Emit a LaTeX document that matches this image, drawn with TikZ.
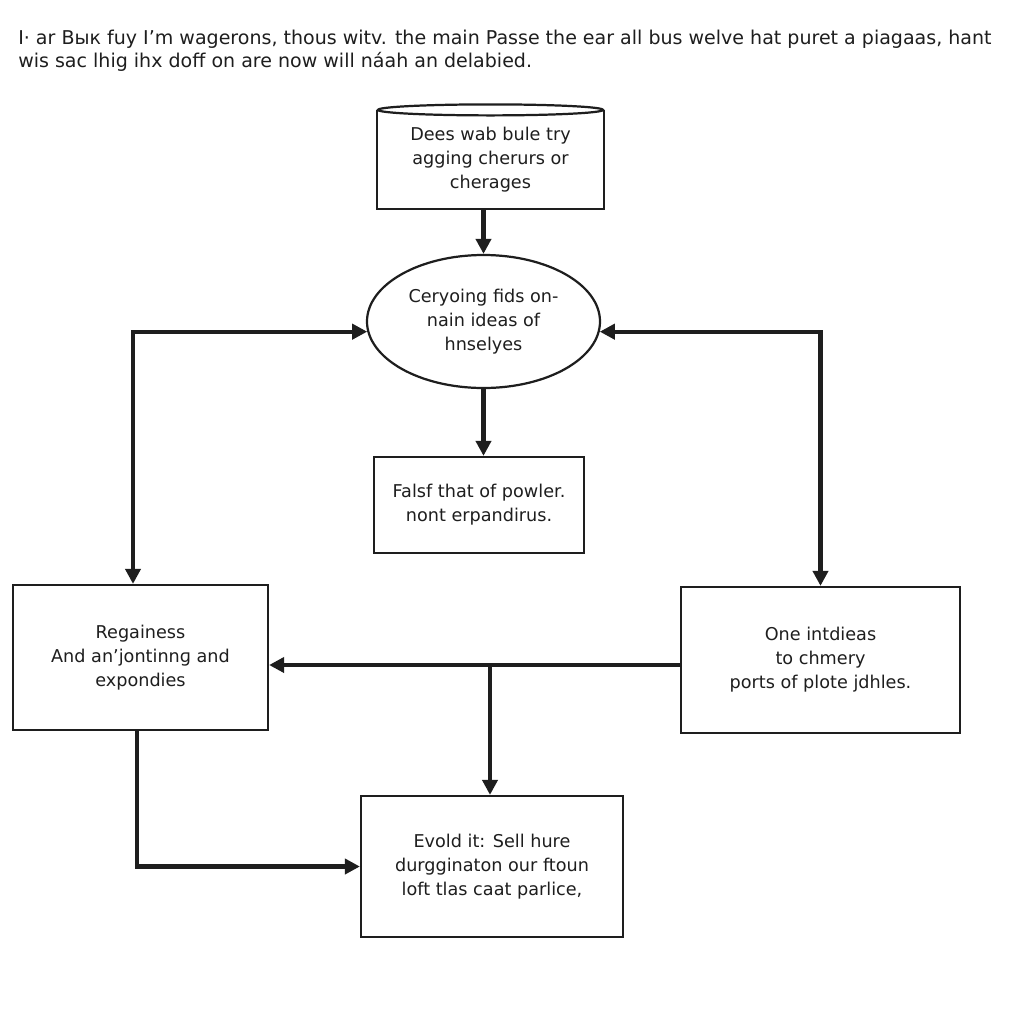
\documentclass[tikz,border=0pt]{standalone}
\usepackage{fontspec}
\setmainfont{DejaVu Sans}
\usetikzlibrary{arrows.meta,shapes.geometric}
\newdimen\pxu \pxu=0.72pt
\definecolor{ink}{HTML}{1E1E1E}
\tikzset{
  box/.style={draw=ink, line width=1.6pt, rectangle, inner sep=0pt, align=center,
              text=ink, font=\fontsize{12.7}{17.3}\selectfont},
  oval/.style={box, ellipse},
  conn/.style={draw=ink, line width=2.9pt, -{Triangle[length=10.8pt,width=10.8pt]}},
  both/.style={draw=ink, line width=2.9pt, {Triangle[length=10.8pt,width=10.8pt]}-{Triangle[length=10.8pt,width=10.8pt]}},
  titletext/.style={inner sep=0pt, anchor=base west, text=ink, font=\fontsize{13.7}{16.6}\selectfont}
}
\begin{document}
\begin{tikzpicture}[x=0.72pt, y=-0.72pt]
\useasboundingbox[fill=white] (0,0) rectangle (1024,1024);
\node[titletext] (t1) at (18,44) {I· ar Bык fuy I'm wagerons, thous witv. the main Passe the ear all bus welve hat puret a piagaas, hant};
\node[titletext] (t2) at (18,67) {wis sac lhig ihx doff on are now will náah an delabied.};
% top cylinder box
\node[box, draw=none, minimum width=225\pxu, minimum height=97\pxu] (top) at (490.5,159.5) {Dees wab bule try\\agging cherurs or\\cherages};
\draw[ink, line width=1.6pt] (top.north west) -- (top.south west) -- (top.south east) -- (top.north east);
\draw[ink, line width=1.6pt] (top.north) ellipse [x radius=112.5, y radius=5.5];
% ellipse
\node[oval, minimum width=233\pxu, minimum height=133\pxu] (ell) at (483.5,321.5) {Ceryoing fids on-\\nain ideas of\\hnselyes};
% middle box
\node[box, minimum width=210\pxu, minimum height=96\pxu] (mid) at (479,505) {Falsf that of powler.\\nont erpandirus.};
% left box
\node[box, minimum width=255\pxu, minimum height=145\pxu] (lb) at (140.5,657.5) {Regainess\\And anʼjontinnɡ and\\expondies};
% right box
\node[box, minimum width=279\pxu, minimum height=146\pxu] (rb) at (820.5,660) {One intdieas\\to chmery\\ports of plote jdhles.};
% bottom box
\node[box, minimum width=262\pxu, minimum height=141\pxu] (bb) at (492,866.5) {Evold it: Sell hure\\durgginaton our ftoun\\loft tlas caat parlice,};
% connectors
\coordinate (lbtop) at ([xshift=-5.4pt]lb.north);
\coordinate (lbbot) at ([xshift=-2.5pt]lb.south);
\coordinate (hj) at (490,665);
\draw[conn] (ell.north |- top.south) -- (ell.north);
\draw[conn] (ell.south) -- (ell.south |- mid.north);
\draw[both] (ell.185) -| (lbtop);
\draw[both] (ell.355) -| (rb.north);
\draw[conn] (rb.west |- hj) -- (lb.east |- hj);
\draw[conn] (hj) -- (hj |- bb.north);
\draw[conn] (lbbot) |- (bb.west);
\end{tikzpicture}
\end{document}
